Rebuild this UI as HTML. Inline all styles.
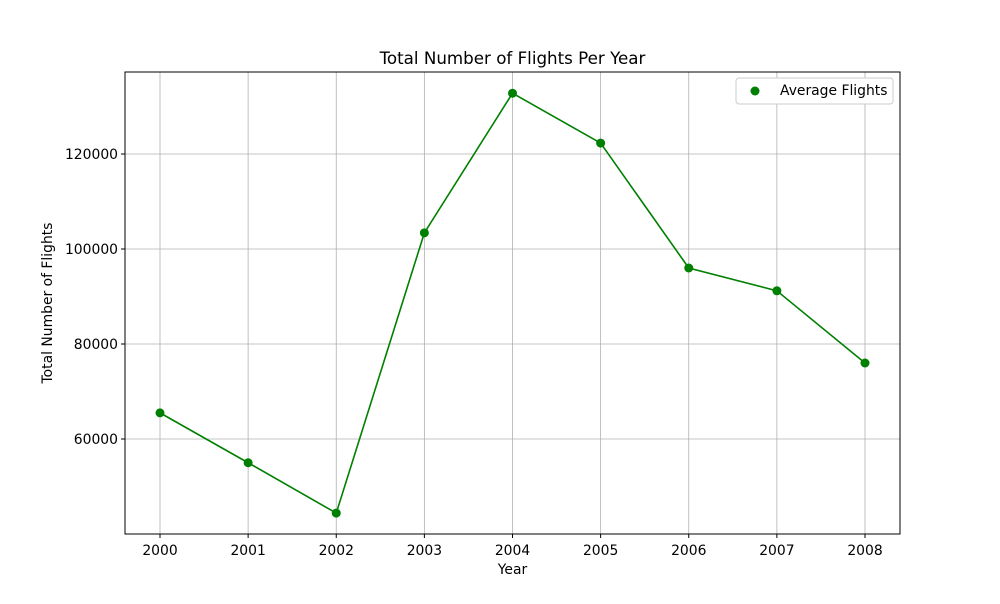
<!DOCTYPE html>
<html><head><meta charset="utf-8"><style>
body{margin:0;background:#fff;font-family:"DejaVu Sans","Liberation Sans",sans-serif;}
svg text{font-family:"DejaVu Sans","Liberation Sans",sans-serif;}
</style></head><body>
<svg id="chart" width="1000" height="600" xmlns="http://www.w3.org/2000/svg">
<rect width="1000" height="600" fill="#fff"/>
<g id="grid"></g>
<g id="axes"></g>
<g id="series"></g>
<rect x="125" y="72" width="775" height="462" fill="none" stroke="#000" stroke-width="1"/>
<text x="512.5" y="64" font-size="16.7" text-anchor="middle">Total Number of Flights Per Year</text>
<text x="512.5" y="574" font-size="13.9" text-anchor="middle">Year</text>
<text x="52" y="303" font-size="13.9" text-anchor="middle" transform="rotate(-90 52 303)">Total Number of Flights</text>
<g>
<rect x="736" y="78" width="157" height="26" rx="3" fill="#fff" stroke="#ccc"/>
<circle cx="755" cy="91" r="4.5" fill="green"/>
<text x="780" y="95" font-size="13.9">Average Flights</text>
</g>
</svg>
<script>
const years=[2000,2001,2002,2003,2004,2005,2006,2007,2008];
const flights=[65500,55000,44400,103400,132800,122300,96000,91200,76000];
const yTicks=[60000,80000,100000,120000];
const NS="http://www.w3.org/2000/svg";
const xS=v=>160+(v-2000)*(865-160)/8;
const yS=v=>439-(v-60000)*95/20000;
function mk(t,a,p){const e=document.createElementNS(NS,t);for(const k in a)e.setAttribute(k,a[k]);p.appendChild(e);return e;}
const grid=document.getElementById('grid'),axes=document.getElementById('axes'),ser=document.getElementById('series');
years.forEach(y=>{const x=xS(y);
const g=mk('line',{x1:x,x2:x,y1:72,y2:534,stroke:'#b0b0b0','stroke-width':0.8},grid);


mk('line',{x1:x,x2:x,y1:534,y2:538,stroke:'#000'},axes);
const t=mk('text',{x:x,y:555,'font-size':13.9,'text-anchor':'middle'},axes);t.textContent=y;

});
yTicks.forEach(v=>{const y=yS(v);
const g=mk('line',{x1:125,x2:900,y1:y,y2:y,stroke:'#b0b0b0','stroke-width':0.8},grid);


mk('line',{x1:121,x2:125,y1:y,y2:y,stroke:'#000'},axes);
const t=mk('text',{x:118,y:y+5,'font-size':13.9,'text-anchor':'end'},axes);t.textContent=v;

});
const pts=years.map((y,i)=>xS(y)+','+yS(flights[i])).join(' ');
const l=mk('polyline',{points:pts,fill:'none',stroke:'green','stroke-width':1.6},ser);


years.forEach((y,i)=>{const c=mk('circle',{cx:xS(y),cy:yS(flights[i]),r:4.5,fill:'green'},ser);

});
</script>
</body></html>
